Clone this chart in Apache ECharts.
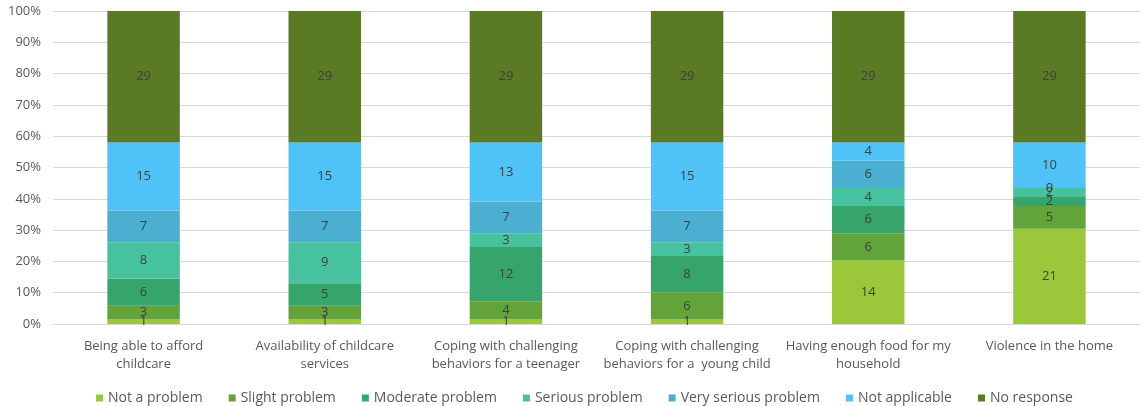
<!DOCTYPE html>
<html>
<head>
<meta charset="utf-8">
<script src="https://cdn.jsdelivr.net/npm/echarts@6/dist/echarts.min.js"></script>
<style>
  html, body { margin: 0; padding: 0; background: #fff; }
  #chart { width: 1143px; height: 406px; }
</style>
</head>
<body>
<div id="chart"></div>
<script>
  // categories along the x axis
  var categories = [
    'Being able to afford\nchildcare',
    'Availability of childcare\nservices',
    'Coping with challenging\nbehaviors for a teenager',
    'Coping with challenging\nbehaviors for a  young child',
    'Having enough food for my\nhousehold',
    'Violence in the home'
  ];

  // counts per response level (bottom to top)
  var notAProblem      = [1, 1, 1, 1, 14, 21];
  var slightProblem    = [3, 3, 4, 6, 6, 5];
  var moderateProblem  = [6, 5, 12, 8, 6, 2];
  var seriousProblem   = [8, 9, 3, 3, 4, 2];
  var verySerious      = [7, 7, 7, 7, 6, 0];
  var notApplicable    = [15, 15, 13, 15, 4, 10];
  var noResponse       = [29, 29, 29, 29, 29, 29];

  var seriesNames = ['Not a problem', 'Slight problem', 'Moderate problem', 'Serious problem',
    'Very serious problem', 'Not applicable', 'No response'];
  var seriesCounts = [notAProblem, slightProblem, moderateProblem, seriousProblem,
    verySerious, notApplicable, noResponse];
  var colors = ['#9BC83A', '#62A33A', '#36A56B', '#46C29E', '#4BAFD1', '#4FC3F7', '#5A7A23'];

  // totals per category, used to turn counts into 100% stacks
  var totals = categories.map(function (c, i) {
    var s = 0;
    seriesCounts.forEach(function (arr) { s += arr[i]; });
    return s;
  });

  var myChart = echarts.init(document.getElementById('chart'));

  var series = seriesNames.map(function (name, k) {
    return {
      name: name,
      type: 'bar',
      stack: 'total',
      barCategoryGap: '60%',
      itemStyle: { color: colors[k] },
      label: {
        show: true,
        position: 'inside',
        color: '#404040',
        fontSize: 13,
        fontFamily: 'Open Sans',
        formatter: function (p) { return seriesCounts[k][p.dataIndex]; }
      },
      data: seriesCounts[k].map(function (v, i) { return v / totals[i] * 100; })
    };
  });

  var option = {
    animation: false,
    color: colors,
    grid: {
      top: 11,
      left: 53,
      right: 3,
      bottom: 82
    },
    legend: {
      bottom: -4,
      left: 91,
      itemWidth: 7,
      itemHeight: 7,
      itemGap: 26,
      icon: 'rect',
      textStyle: { color: '#595959', fontSize: 14, fontFamily: 'Open Sans' },
      data: seriesNames
    },
    xAxis: {
      type: 'category',
      data: categories,
      axisLine: { lineStyle: { color: '#d9d9d9' } },
      axisTick: { show: false },
      axisLabel: {
        color: '#595959',
        fontSize: 13,
        fontFamily: 'Open Sans',
        interval: 0,
        margin: 13,
        lineHeight: 18
      }
    },
    yAxis: {
      type: 'value',
      min: 0,
      max: 100,
      interval: 10,
      axisLine: { show: false },
      axisTick: { show: false },
      axisLabel: {
        color: '#595959',
        fontSize: 13,
        fontFamily: 'Open Sans',
        margin: 12,
        formatter: '{value}%'
      },
      splitLine: { lineStyle: { color: '#d9d9d9' } }
    },
    series: series
  };

  myChart.setOption(option);
</script>
</body>
</html>
